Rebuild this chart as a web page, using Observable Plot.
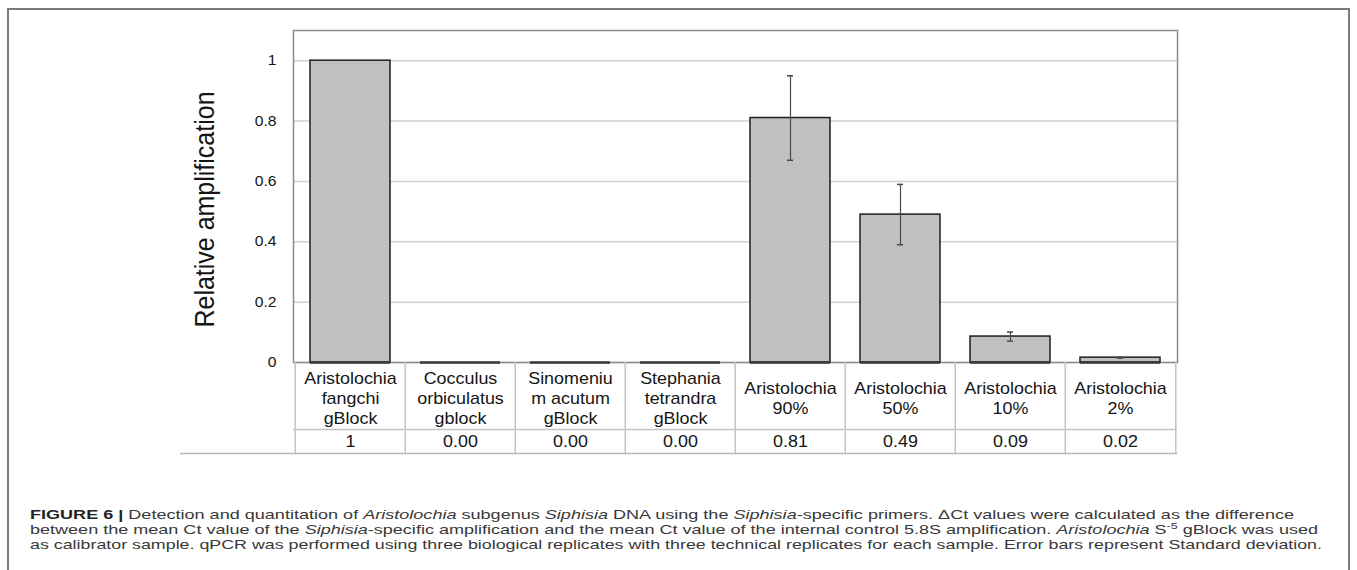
<!DOCTYPE html>
<html><head><meta charset="utf-8">
<script src="https://cdn.jsdelivr.net/npm/d3@7"></script>
<script src="https://cdn.jsdelivr.net/npm/@observablehq/plot@0.6"></script>
<style>
html,body{margin:0;padding:0;background:#fff;width:1357px;height:570px;overflow:hidden;}
#box{position:absolute;left:7px;top:8px;width:1343px;height:640px;border:2px solid #7a7a7a;box-sizing:border-box;}
#chart{position:absolute;left:0;top:0;}
#caption{position:absolute;left:30px;top:506.5px;font-family:"Liberation Sans",Arial,sans-serif;font-size:13px;color:#383838;}
.line{white-space:nowrap;line-height:15px;height:15px;}
.line span{display:inline-block;transform-origin:0 50%;}
.line b{color:#222;}
sup{font-size:9px;line-height:0;vertical-align:5px;}
</style></head><body>
<div id="box"></div>
<div id="chart"></div>
<div id="caption"></div>
<script>
const categories = [
  "Aristolochia\nfangchi\ngBlock",
  "Cocculus\norbiculatus\ngblock",
  "Sinomeniu\nm acutum\ngBlock",
  "Stephania\ntetrandra\ngBlock",
  "Aristolochia\n90%",
  "Aristolochia\n50%",
  "Aristolochia\n10%",
  "Aristolochia\n2%"
];
const amplification = [1, 0, 0, 0, 0.81, 0.49, 0.086, 0.016];
const stdDev = [0, 0, 0, 0, 0.14, 0.10, 0.015, 0.0015];
const valueLabels = ["1", "0.00", "0.00", "0.00", "0.81", "0.49", "0.09", "0.02"];
const yTicks = [0, 0.2, 0.4, 0.6, 0.8, 1];
const yLabel = "Relative amplification";
const captionLines = [
  '<b>FIGURE 6 |</b> Detection and quantitation of <i>Aristolochia</i> subgenus <i>Siphisia</i> DNA using the <i>Siphisia</i>-specific primers. \u0394Ct values were calculated as the difference',
  'between the mean Ct value of the <i>Siphisia</i>-specific amplification and the mean Ct value of the internal control 5.8S amplification. <i>Aristolochia</i> S<sup>-5</sup> gBlock was used',
  'as calibrator sample. qPCR was performed using three biological replicates with three technical replicates for each sample. Error bars represent Standard deviation.'
];
const captionEnds = [1294, 1318, 1322];
const captionLeft = 30;

const data = categories.map((c, i) => ({cat: c, v: amplification[i], sd: stdDev[i], lab: valueLabels[i]}));
const errs = data.filter(d => d.sd > 0);

const W = 1357, H = 460, ML = 293, MR = 180, MT = 30, MB = 98;
const step = (W - ML - MR) / categories.length;
const grid = "#d2d2d2", tbl = "#c4c4c4", err = "#4a4a4a";

const plot = Plot.plot({
  width: W, height: H,
  marginLeft: ML, marginRight: MR, marginTop: MT, marginBottom: MB,
  style: {fontFamily: "'Liberation Sans', Arial, sans-serif", fontSize: "14px", color: "#151515", background: "transparent"},
  x: {type: "band", domain: categories, paddingInner: 0.276, paddingOuter: 0.138, axis: null},
  y: {domain: [0, 1.1], axis: null},
  marks: [
    Plot.ruleY(yTicks, {stroke: grid, strokeWidth: 1.5}),
    Plot.frame({stroke: "#8c8c8c", strokeWidth: 1.5}),
    Plot.barY(data, {x: "cat", y: "v", fill: "#c0c0c0", stroke: "#1e1e1e", strokeWidth: 1.5}),
    Plot.tickY(data, {x: "cat", y: 0, stroke: "#3a3a3a", strokeWidth: 2.5}),
    Plot.ruleX(errs, {x: "cat", y1: d => d.v - d.sd, y2: d => d.v + d.sd, stroke: err, strokeWidth: 1.2}),
    Plot.tickY(errs, {x: "cat", y: d => d.v - d.sd, insetLeft: 37, insetRight: 37, stroke: err, strokeWidth: 1.5}),
    Plot.tickY(errs, {x: "cat", y: d => d.v + d.sd, insetLeft: 37, insetRight: 37, stroke: err, strokeWidth: 1.5}),
    Plot.axisY({ticks: yTicks, tickSize: 0, tickPadding: 17, tickFormat: d3.format("~g"), fontSize: 14, label: null}),
    Plot.text([yLabel], {frameAnchor: "left", textAnchor: "middle", lineAnchor: "middle", rotate: -90, dx: -88, dy: 13, fontSize: 25}),
    // data table under the chart
    Plot.ruleY([0], {dy: 67, stroke: tbl, strokeWidth: 1.5}),
    Plot.ruleY([0], {dy: 91, insetLeft: -113, stroke: "#b8b8b8", strokeWidth: 1.5}),
    Plot.ruleX(categories, {x: d => d, y1: 0, y2: 0, dx: -step / 2, insetBottom: -91, stroke: tbl, strokeWidth: 1.5}),
    Plot.ruleX(categories.slice(-1), {x: d => d, y1: 0, y2: 0, dx: step / 2, insetBottom: -91, stroke: tbl, strokeWidth: 1.5}),
    Plot.text(data, {x: "cat", text: "cat", frameAnchor: "bottom", dy: 35, lineAnchor: "middle", lineHeight: 1.25, fontSize: 16}),
    Plot.text(data, {x: "cat", text: "lab", frameAnchor: "bottom", dy: 79, lineAnchor: "middle", fontSize: 16})
  ]
});
document.getElementById("chart").appendChild(plot);

// the reference glyphs are slightly wider than tall
plot.querySelectorAll("text").forEach(t => {
  const tr = t.getAttribute("transform") || "";
  t.setAttribute("transform", tr + (tr.includes("rotate") ? " scale(1,1.1)" : " scale(1.12,1)"));
});

const cap = document.getElementById("caption");
captionLines.forEach((html, i) => {
  const div = document.createElement("div");
  div.className = "line";
  const span = document.createElement("span");
  span.innerHTML = html;
  div.appendChild(span);
  cap.appendChild(div);
  const w = span.getBoundingClientRect().width;
  span.style.transform = `scaleX(${(captionEnds[i] - captionLeft) / w})`;
});
</script>
</body></html>
